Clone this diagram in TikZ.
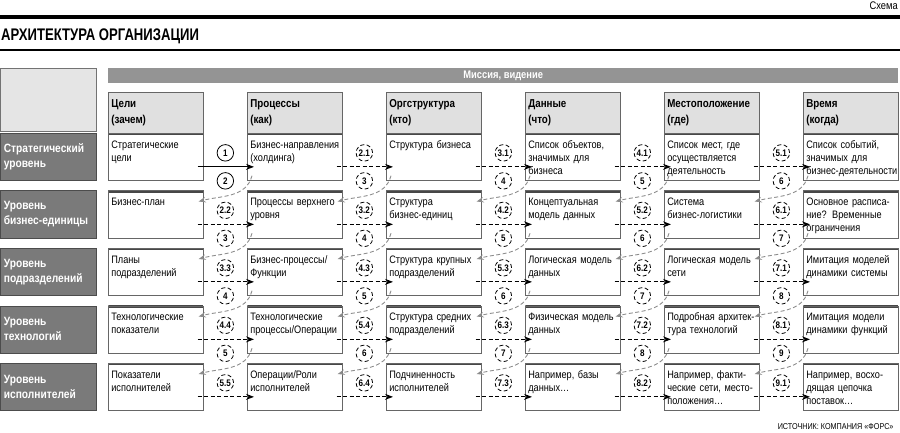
\documentclass[tikz,border=0pt]{standalone}
\usepackage{fontspec}
\setmainfont{Liberation Sans}[FakeStretch=0.85]
\newfontfamily\titlefont{Liberation Sans}[FakeStretch=0.78]
\usetikzlibrary{arrows.meta,positioning,calc}

\begin{document}
\begin{tikzpicture}[
    x=1pt, y=1pt,
    font=\fontsize{10.8}{13}\selectfont,
    cell/.style={draw=black!60, fill=white, line width=0.7pt, anchor=north west, minimum width=95pt, minimum height=47pt, text width=89pt, align=left, inner sep=3pt, text height=12pt, text depth=29pt,
        path picture={\draw[line width=4pt, black!72] (path picture bounding box.north west) -- (path picture bounding box.north east);}},
    colhead/.style={draw=black!60, fill=black!12, line width=0.7pt, anchor=north west, minimum width=95pt, minimum height=41pt, text width=89pt, align=left, inner sep=3pt, text height=12pt, text depth=23pt, font=\fontsize{11.5}{16}\selectfont\bfseries},
    rowhead/.style={draw=black!70, fill=black!52, text=white, line width=0.7pt, anchor=north west, minimum width=96pt, minimum height=47pt, text width=89pt, align=left, inner xsep=3.5pt, font=\fontsize{12}{15}\selectfont\bfseries},
    band/.style={fill=black!42, text=white, anchor=north west, minimum width=790pt, minimum height=15pt, inner sep=0pt, font=\fontsize{11}{12}\selectfont\bfseries},
    num/.style={circle, draw=black, line width=0.8pt, fill=white, minimum size=16.5pt, inner sep=0pt, font=\fontsize{9.5}{10}\selectfont\bfseries},
    fwd/.style={-{Stealth[length=8pt, width=6pt]}, line width=1.1pt, dash pattern=on 4pt off 2.5pt, shorten <=-6pt, shorten >=-7pt},
    back/.style={-{Stealth[length=7pt, width=5.5pt]}, draw=black!45, line width=0.9pt, dash pattern=on 4pt off 2.5pt}
]
\useasboundingbox (0,0) rectangle (900,-433);

% ---- Heading ----
\node[anchor=base east, inner sep=0pt, font=\fontsize{11}{12}\selectfont] (kind) at (898,-10) {Схема};
\draw[line width=3.5pt] (0,-17) -- (900,-17);
\node[anchor=base west, inner sep=0pt, font={\titlefont\bfseries\fontsize{16.8}{17}\selectfont}] (title) at (1,-41) {АРХИТЕКТУРА ОРГАНИЗАЦИИ};
\draw[line width=1.2pt] (0,-50) -- (900,-50);

% ---- Top band and column headers ----
\node[draw=black!55, fill=black!10, line width=0.7pt, anchor=north west, minimum width=96pt, minimum height=63pt] (corner) at (0,-68) {};
\node[band] (mission) at (108,-68) {Миссия, видение};

\node[colhead] (hgoal) at (108,-92) {Цели\\(зачем)};
\node[colhead] (hproc) at (247,-92) {Процессы\\(как)};
\node[colhead] (horg)  at (386,-92) {Оргструктура\\(кто)};
\node[colhead] (hdata) at (525,-92) {Данные\\(что)};
\node[colhead] (hloc)  at (664,-92) {Местоположение\\(где)};
\node[colhead] (htime) at (803,-92) {Время\\(когда)};

% ---- Row headers ----
\node[rowhead] (lvl1) at (0,-133)   {Стратегический\\уровень};
\node[rowhead] (lvl2) at (0,-190.5) {Уровень\\бизнес-единицы};
\node[rowhead] (lvl3) at (0,-248)   {Уровень\\подразделений};
\node[rowhead] (lvl4) at (0,-305.5) {Уровень\\технологий};
\node[rowhead] (lvl5) at (0,-363)   {Уровень\\исполнителей};

% ---- Cells, row 1 ----
\node[cell] (goal1) at (108,-133) {Стратегические\\цели};
\node[cell] (proc1) at (247,-133) {Бизнес-направления\\(холдинга)};
\node[cell] (org1)  at (386,-133) {Структура бизнеса};
\node[cell] (data1) at (525,-133) {Список объектов,\\значимых для\\бизнеса};
\node[cell] (loc1)  at (664,-133) {Список мест, где\\осуществляется\\деятельность};
\node[cell] (time1) at (803,-133) {Список событий,\\значимых для\\\mbox{бизнес-деятельности}};

% ---- Cells, row 2 ----
\node[cell] (goal2) at (108,-190.5) {Бизнес-план};
\node[cell] (proc2) at (247,-190.5) {Процессы верхнего\\уровня};
\node[cell] (org2)  at (386,-190.5) {Структура\\бизнес-единиц};
\node[cell] (data2) at (525,-190.5) {Концептуальная\\модель данных};
\node[cell] (loc2)  at (664,-190.5) {Система\\бизнес-логистики};
\node[cell] (time2) at (803,-190.5) {Основное расписа-\\ние? Временные\\ограничения};

% ---- Cells, row 3 ----
\node[cell] (goal3) at (108,-248) {Планы\\подразделений};
\node[cell] (proc3) at (247,-248) {Бизнес-процессы/\\Функции};
\node[cell] (org3)  at (386,-248) {Структура крупных\\подразделений};
\node[cell] (data3) at (525,-248) {Логическая модель\\данных};
\node[cell] (loc3)  at (664,-248) {Логическая модель\\сети};
\node[cell] (time3) at (803,-248) {Имитация моделей\\динамики системы};

% ---- Cells, row 4 ----
\node[cell] (goal4) at (108,-305.5) {Технологические\\показатели};
\node[cell] (proc4) at (247,-305.5) {Технологические\\процессы/Операции};
\node[cell] (org4)  at (386,-305.5) {Структура средних\\подразделений};
\node[cell] (data4) at (525,-305.5) {Физическая модель\\данных};
\node[cell] (loc4)  at (664,-305.5) {Подробная архитек-\\тура технологий};
\node[cell] (time4) at (803,-305.5) {Имитация модели\\динамики функций};

% ---- Cells, row 5 ----
\node[cell] (goal5) at (108,-363) {Показатели\\исполнителей};
\node[cell] (proc5) at (247,-363) {Операции/Роли\\исполнителей};
\node[cell] (org5)  at (386,-363) {Подчиненность\\исполнителей};
\node[cell] (data5) at (525,-363) {Например, базы\\данных…};
\node[cell] (loc5)  at (664,-363) {Например, факти-\\ческие сети, место-\\положения…};
\node[cell] (time5) at (803,-363) {Например, восхо-\\дящая цепочка\\поставок…};

% ---- Steps along each row ----
\draw[fwd, solid] ([yshift=-10pt]goal1.east) -- node[num, yshift=14pt]{1} node[num, yshift=-14pt]{2} ([yshift=-10pt]proc1.west);
\draw[fwd] ([yshift=-10pt]proc1.east) -- node[num, yshift=14pt]{2.1} node[num, yshift=-14pt]{3} ([yshift=-10pt]org1.west);
\draw[fwd] ([yshift=-10pt]org1.east)  -- node[num, yshift=14pt]{3.1} node[num, yshift=-14pt]{4} ([yshift=-10pt]data1.west);
\draw[fwd] ([yshift=-10pt]data1.east) -- node[num, yshift=14pt]{4.1} node[num, yshift=-14pt]{5} ([yshift=-10pt]loc1.west);
\draw[fwd] ([yshift=-10pt]loc1.east)  -- node[num, yshift=14pt]{5.1} node[num, yshift=-14pt]{6} ([yshift=-10pt]time1.west);

\draw[fwd] ([yshift=-10pt]goal2.east) -- node[num, yshift=14pt]{2.2} node[num, yshift=-14pt]{3} ([yshift=-10pt]proc2.west);
\draw[fwd] ([yshift=-10pt]proc2.east) -- node[num, yshift=14pt]{3.2} node[num, yshift=-14pt]{4} ([yshift=-10pt]org2.west);
\draw[fwd] ([yshift=-10pt]org2.east)  -- node[num, yshift=14pt]{4.2} node[num, yshift=-14pt]{5} ([yshift=-10pt]data2.west);
\draw[fwd] ([yshift=-10pt]data2.east) -- node[num, yshift=14pt]{5.2} node[num, yshift=-14pt]{6} ([yshift=-10pt]loc2.west);
\draw[fwd] ([yshift=-10pt]loc2.east)  -- node[num, yshift=14pt]{6.1} node[num, yshift=-14pt]{7} ([yshift=-10pt]time2.west);

\draw[fwd] ([yshift=-10pt]goal3.east) -- node[num, yshift=14pt]{3.3} node[num, yshift=-14pt]{4} ([yshift=-10pt]proc3.west);
\draw[fwd] ([yshift=-10pt]proc3.east) -- node[num, yshift=14pt]{4.3} node[num, yshift=-14pt]{5} ([yshift=-10pt]org3.west);
\draw[fwd] ([yshift=-10pt]org3.east)  -- node[num, yshift=14pt]{5.3} node[num, yshift=-14pt]{6} ([yshift=-10pt]data3.west);
\draw[fwd] ([yshift=-10pt]data3.east) -- node[num, yshift=14pt]{6.2} node[num, yshift=-14pt]{7} ([yshift=-10pt]loc3.west);
\draw[fwd] ([yshift=-10pt]loc3.east)  -- node[num, yshift=14pt]{7.1} node[num, yshift=-14pt]{8} ([yshift=-10pt]time3.west);

\draw[fwd] ([yshift=-10pt]goal4.east) -- node[num, yshift=14pt]{4.4} node[num, yshift=-14pt]{5} ([yshift=-10pt]proc4.west);
\draw[fwd] ([yshift=-10pt]proc4.east) -- node[num, yshift=14pt]{5.4} node[num, yshift=-14pt]{6} ([yshift=-10pt]org4.west);
\draw[fwd] ([yshift=-10pt]org4.east)  -- node[num, yshift=14pt]{6.3} node[num, yshift=-14pt]{7} ([yshift=-10pt]data4.west);
\draw[fwd] ([yshift=-10pt]data4.east) -- node[num, yshift=14pt]{7.2} node[num, yshift=-14pt]{8} ([yshift=-10pt]loc4.west);
\draw[fwd] ([yshift=-10pt]loc4.east)  -- node[num, yshift=14pt]{8.1} node[num, yshift=-14pt]{9} ([yshift=-10pt]time4.west);

\draw[fwd] ([yshift=-10pt]goal5.east) -- node[num, yshift=14pt]{5.5} ([yshift=-10pt]proc5.west);
\draw[fwd] ([yshift=-10pt]proc5.east) -- node[num, yshift=14pt]{6.4} ([yshift=-10pt]org5.west);
\draw[fwd] ([yshift=-10pt]org5.east)  -- node[num, yshift=14pt]{7.3} ([yshift=-10pt]data5.west);
\draw[fwd] ([yshift=-10pt]data5.east) -- node[num, yshift=14pt]{8.2} ([yshift=-10pt]loc5.west);
\draw[fwd] ([yshift=-10pt]loc5.east)  -- node[num, yshift=14pt]{9.1} ([yshift=-10pt]time5.west);

% ---- Returns to the next level down ----
\draw[back] ([shift={(5pt,5pt)}]proc1.south west) to[out=-105, in=15] ([shift={(-5pt,-11pt)}]goal2.north east);
\draw[back] ([shift={(5pt,5pt)}]org1.south west)  to[out=-105, in=15] ([shift={(-5pt,-11pt)}]proc2.north east);
\draw[back] ([shift={(5pt,5pt)}]data1.south west) to[out=-105, in=15] ([shift={(-5pt,-11pt)}]org2.north east);
\draw[back] ([shift={(5pt,5pt)}]loc1.south west)  to[out=-105, in=15] ([shift={(-5pt,-11pt)}]data2.north east);
\draw[back] ([shift={(5pt,5pt)}]time1.south west) to[out=-105, in=15] ([shift={(-5pt,-11pt)}]loc2.north east);

\draw[back] ([shift={(5pt,5pt)}]proc2.south west) to[out=-105, in=15] ([shift={(-5pt,-11pt)}]goal3.north east);
\draw[back] ([shift={(5pt,5pt)}]org2.south west)  to[out=-105, in=15] ([shift={(-5pt,-11pt)}]proc3.north east);
\draw[back] ([shift={(5pt,5pt)}]data2.south west) to[out=-105, in=15] ([shift={(-5pt,-11pt)}]org3.north east);
\draw[back] ([shift={(5pt,5pt)}]loc2.south west)  to[out=-105, in=15] ([shift={(-5pt,-11pt)}]data3.north east);
\draw[back] ([shift={(5pt,5pt)}]time2.south west) to[out=-105, in=15] ([shift={(-5pt,-11pt)}]loc3.north east);

\draw[back] ([shift={(5pt,5pt)}]proc3.south west) to[out=-105, in=15] ([shift={(-5pt,-11pt)}]goal4.north east);
\draw[back] ([shift={(5pt,5pt)}]org3.south west)  to[out=-105, in=15] ([shift={(-5pt,-11pt)}]proc4.north east);
\draw[back] ([shift={(5pt,5pt)}]data3.south west) to[out=-105, in=15] ([shift={(-5pt,-11pt)}]org4.north east);
\draw[back] ([shift={(5pt,5pt)}]loc3.south west)  to[out=-105, in=15] ([shift={(-5pt,-11pt)}]data4.north east);
\draw[back] ([shift={(5pt,5pt)}]time3.south west) to[out=-105, in=15] ([shift={(-5pt,-11pt)}]loc4.north east);

\draw[back] ([shift={(5pt,5pt)}]proc4.south west) to[out=-105, in=15] ([shift={(-5pt,-11pt)}]goal5.north east);
\draw[back] ([shift={(5pt,5pt)}]org4.south west)  to[out=-105, in=15] ([shift={(-5pt,-11pt)}]proc5.north east);
\draw[back] ([shift={(5pt,5pt)}]data4.south west) to[out=-105, in=15] ([shift={(-5pt,-11pt)}]org5.north east);
\draw[back] ([shift={(5pt,5pt)}]loc4.south west)  to[out=-105, in=15] ([shift={(-5pt,-11pt)}]data5.north east);
\draw[back] ([shift={(5pt,5pt)}]time4.south west) to[out=-105, in=15] ([shift={(-5pt,-11pt)}]loc5.north east);

% ---- Source ----
\node[anchor=base east, font=\fontsize{8.5}{10}\selectfont] (source) at (897,-429) {ИСТОЧНИК: КОМПАНИЯ «ФОРС»};

\end{tikzpicture}
\end{document}
